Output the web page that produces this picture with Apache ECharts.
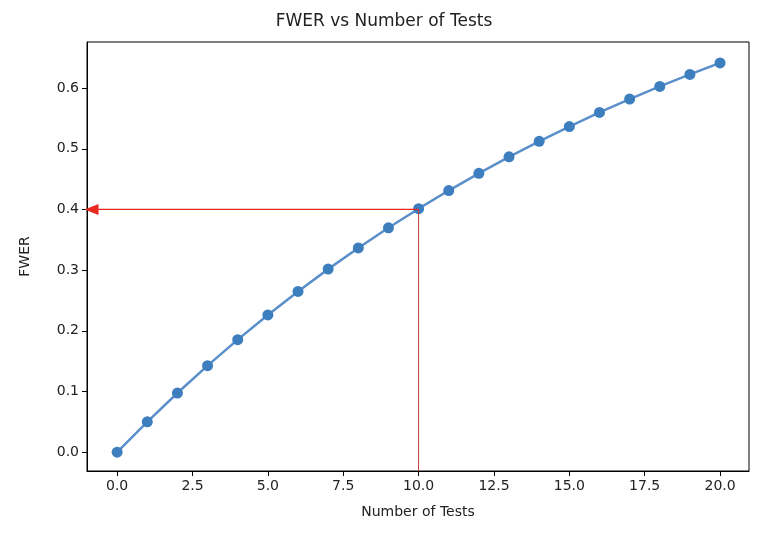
<!DOCTYPE html>
<html><head><meta charset="utf-8">
<script src="https://cdn.jsdelivr.net/npm/echarts@6/dist/echarts.min.js"></script>
<style>body{margin:0}#c{width:768px;height:540px}</style></head>
<body><div id="c"></div>
<script>
const tests = [0,1,2,3,4,5,6,7,8,9,10,11,12,13,14,15,16,17,18,19,20];
const fwer = [0,0.05,0.0975,0.1426,0.1855,0.2262,0.2649,0.3017,0.3366,0.3698,0.4013,0.4312,0.4596,0.4867,0.5123,0.5367,0.5599,0.5819,0.6028,0.6226,0.6415];
const xTicks = [0,2.5,5,7.5,10,12.5,15,17.5,20];
const yTicks = [0,0.1,0.2,0.3,0.4,0.5,0.6];
const hLine = [[10,0.4],[-0.85,0.4]];
const vLine = [[10,0.4],[10,-0.031]];
const font = 'DejaVu Sans';
const chart = echarts.init(document.getElementById('c'));
chart.setOption({
  animation:false,
  title:{text:'FWER vs Number of Tests',left:'center',top:8,textStyle:{fontFamily:font,fontSize:17,fontWeight:'normal',color:'#222'}},
  grid:{left:87,right:19,top:42,bottom:69,show:true,borderColor:'#000',borderWidth:1},
  xAxis:{type:'value',min:-1,max:20.96,name:'Number of Tests',nameLocation:'middle',nameGap:34,
    nameTextStyle:{fontFamily:font,fontSize:14,color:'#222'},
    axisLine:{onZero:false,lineStyle:{color:'#000'}},splitLine:{show:false},
    axisTick:{customValues:xTicks,length:5,lineStyle:{color:'#000'}},
    axisLabel:{customValues:xTicks,formatter:v=>v.toFixed(1),fontFamily:font,fontSize:14,color:'#222'}},
  yAxis:{type:'value',min:-0.031,max:0.676,name:'FWER',nameLocation:'middle',nameGap:55,
    nameTextStyle:{fontFamily:font,fontSize:14,color:'#222'},
    axisLine:{show:true,onZero:false,lineStyle:{color:'#000'}},splitLine:{show:false},
    axisTick:{show:true,customValues:yTicks,length:5,lineStyle:{color:'#000'}},
    axisLabel:{customValues:yTicks,formatter:v=>v.toFixed(1),fontFamily:font,fontSize:14,color:'#222'}},
  series:[
    {type:'line',data:tests.map((t,i)=>[t,fwer[i]]),symbol:'circle',symbolSize:11,
     lineStyle:{color:'#5b8fc9',width:2.5},itemStyle:{color:'#3d7ebf'},z:3},
    {type:'line',data:[{value:hLine[0],symbol:'none'},{value:hLine[1],symbol:'triangle',symbolSize:[11,14],symbolRotate:90}],
     lineStyle:{color:'#e8281e',width:1.2},itemStyle:{color:'#e8281e'},z:4},
    {type:'line',data:vLine,symbol:'none',lineStyle:{color:'#c0393b',width:1},z:4}
  ]
});
</script></body></html>
